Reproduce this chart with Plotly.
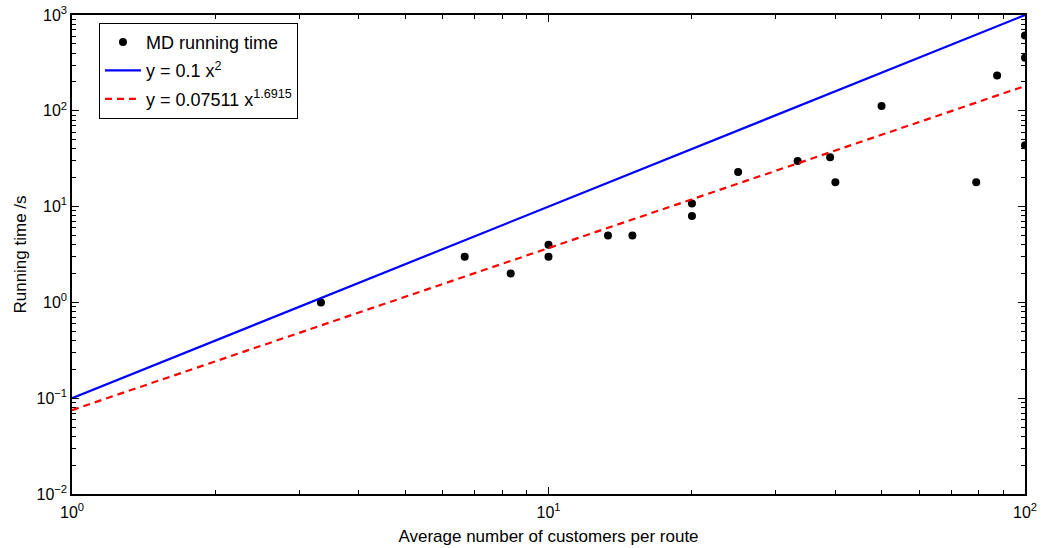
import plotly.graph_objects as go

# ---- data ----
md_x = [3.33, 6.67, 8.33, 10, 10, 13.33, 15, 20, 20, 25, 33.33, 39, 40, 50, 79, 87.4, 100, 100, 100]
md_y = [1, 3, 2, 4, 3, 5, 5, 10.8, 8, 23, 30, 32.7, 18, 112, 18, 233, 611, 357, 43.7]

fit_x = [1, 100]
quad_y = [0.1, 1000]          # y = 0.1 x^2
power_y = [0.07511, 181.4]    # y = 0.07511 x^1.6915

x_tickvals = [1, 10, 100]
x_ticktext = ["10<sup>0</sup>", "10<sup>1</sup>", "10<sup>2</sup>"]
y_tickvals = [0.01, 0.1, 1, 10, 100, 1000]
y_ticktext = ["10<sup>−2</sup>", "10<sup>−1</sup>", "10<sup>0</sup>",
              "10<sup>1</sup>", "10<sup>2</sup>", "10<sup>3</sup>"]
mult = [2, 3, 4, 5, 6, 7, 8, 9]
x_minor = [m * d for d in [1, 10] for m in mult]
y_minor = [m * d for d in [0.01, 0.1, 1, 10, 100] for m in mult]

FONT = "Liberation Sans, Arial, sans-serif"

fig = go.Figure()
fig.add_trace(go.Scatter(
    x=md_x, y=md_y, mode="markers", name="MD running time",
    marker=dict(color="black", size=8), legendgroup="a"))
fig.add_trace(go.Scatter(
    x=fit_x, y=quad_y, mode="lines", name="y = 0.1 x<sup>2</sup>",
    line=dict(color="#0000ff", width=2.2), legendgroup="b"))
fig.add_trace(go.Scatter(
    x=fit_x, y=power_y, mode="lines", name="y = 0.07511 x<sup>1.6915</sup>",
    line=dict(color="#ff0000", width=2.2, dash="7px,5px"), legendgroup="c"))

axis_common = dict(
    type="log", showgrid=False, zeroline=False, automargin=False,
    showline=True, linecolor="black", linewidth=1.5, mirror="allticks",
    ticks="inside", ticklen=7, tickwidth=1, tickcolor="black",
    tickmode="array",
    tickfont=dict(family=FONT, size=16, color="black"),
)

fig.update_xaxes(
    **axis_common, range=[0, 2],
    tickvals=x_tickvals, ticktext=x_ticktext, ticklabelstandoff=3,
    minor=dict(tickvals=x_minor, ticks="inside", ticklen=4, tickcolor="black", showgrid=False),
    title=dict(text="Average number of customers per route",
               font=dict(family=FONT, size=17, color="black"), standoff=10),
)
fig.update_yaxes(
    **axis_common, range=[-2, 3],
    tickvals=y_tickvals, ticktext=y_ticktext,
    minor=dict(tickvals=y_minor, ticks="inside", ticklen=4, tickcolor="black", showgrid=False),
    title=dict(text="Running time /s",
               font=dict(family=FONT, size=17, color="black"), standoff=6),
)

fig.update_layout(
    width=1048, height=548,
    margin=dict(l=72, r=23, t=15, b=54),
    paper_bgcolor="white", plot_bgcolor="white",
    font=dict(family=FONT, size=16, color="black"),
    legend=dict(
        x=0.0283, y=0.9837, xanchor="left", yanchor="top",
        bgcolor="white", bordercolor="black", borderwidth=1,
        font=dict(family=FONT, size=18, color="black"),
        tracegroupgap=2, itemwidth=36,
    ),
    showlegend=True,
)

fig.write_html("out.html")
